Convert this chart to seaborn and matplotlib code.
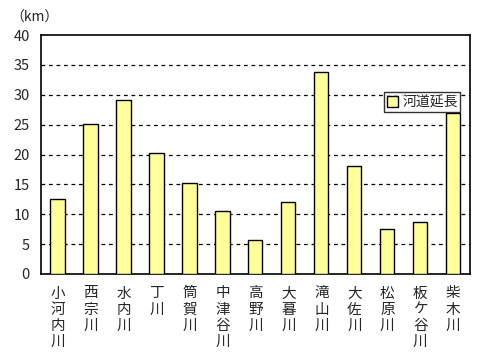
import numpy as np
import pandas as pd
import matplotlib
matplotlib.use('Agg')
import matplotlib.pyplot as plt
import seaborn as sns

rivers = ['小河内川', '西宗川', '水内川', '丁川', '筒賀川', '中津谷川', '高野川',
          '大暮川', '滝山川', '大佐川', '松原川', '板ケ谷川', '柴木川']
lengths = [12.5, 25.1, 29.2, 20.2, 15.2, 10.5, 5.7, 12.0, 33.8, 18.1, 7.6, 8.7, 27.0]
series_name = '河道延長'
y_ticks = [0, 5, 10, 15, 20, 25, 30, 35, 40]

sns.set_style('white')
plt.rcParams['font.family'] = ['Noto Sans CJK JP', 'DejaVu Sans']

df = pd.DataFrame({'river': rivers, 'length': lengths, 'series': series_name})

fig = plt.figure(figsize=(4.94, 3.61), dpi=100)
ax = fig.add_axes([0.083, 0.241, 0.868, 0.662])

sns.barplot(data=df, x='river', y='length', hue='series', palette=['#FFFF99'],
            saturation=1, edgecolor='black', linewidth=1, width=0.43, ax=ax, zorder=3)

ax.set_ylim(0, 40)
ax.set_xlim(-0.5, len(rivers) - 0.5)
ax.set_yticks(y_ticks)
ax.set_yticklabels([str(v) for v in y_ticks], fontsize=10.5)
for v in y_ticks[1:-1]:
    ax.axhline(v, color='black', linestyle=(0, (3, 3)), linewidth=0.9, zorder=1)

# vertical river names, one character per line
ax.set_xticks(range(len(rivers)))
ax.set_xticklabels(['\n'.join(r) for r in rivers], fontsize=10.5, linespacing=1.2, va='top')
ax.tick_params(axis='x', which='major', length=0, pad=9)
ax.set_xticks(np.arange(0.5, len(rivers) - 0.5, 1), minor=True)
ax.tick_params(axis='x', which='minor', direction='in', length=4, width=1, color='black')
ax.tick_params(axis='y', length=0, pad=8)
ax.set_xlabel('')
ax.set_ylabel('')

for s in ax.spines.values():
    s.set_visible(True)
    s.set_color('black')
    s.set_linewidth(1.2)

fig.text(0.02, 0.95, '（km）', fontsize=10, ha='left', va='center')

leg = ax.legend(loc='upper left', bbox_to_anchor=(0.80, 0.76), frameon=True, fontsize=10,
                handlelength=0.8, handleheight=0.8, handletextpad=0.3, borderpad=0.2,
                borderaxespad=0, fancybox=False)
leg.get_frame().set_edgecolor('black')
leg.get_frame().set_linewidth(1)
leg.set_zorder(5)

fig.savefig('out.png', dpi=100)
